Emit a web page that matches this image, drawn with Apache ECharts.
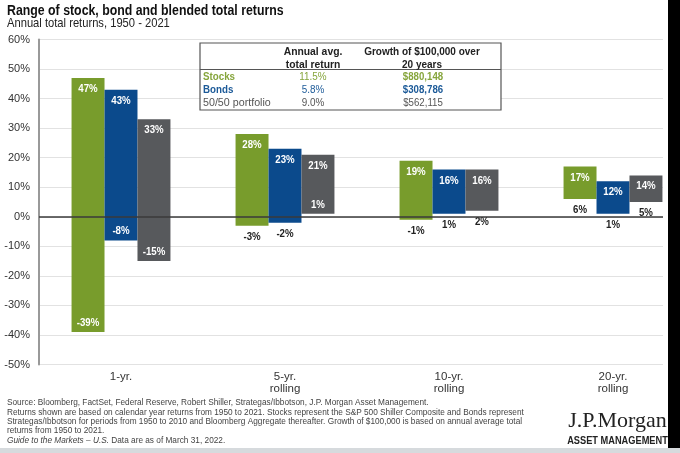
<!DOCTYPE html>
<html>
<head>
<meta charset="utf-8">
<script src="https://cdn.jsdelivr.net/npm/echarts@6/dist/echarts.min.js"></script>
<style>
html,body{margin:0;padding:0;background:#fff;}
#chart{width:680px;height:453px;}
</style>
</head>
<body>
<div id="chart"></div>
<script>
// ---- data ----
var categories = ['1-yr.', '5-yr.\nrolling', '10-yr.\nrolling', '20-yr.\nrolling'];
var stocksMax = [47, 28, 19, 17];
var stocksMin = [-39, -3, -1, 6];
var bondsMax  = [43, 23, 16, 12];
var bondsMin  = [-8, -2, 1, 1];
var blendMax  = [33, 21, 16, 14];
var blendMin  = [-15, 1, 2, 5];
var yMin = -50, yMax = 60, yStep = 10;

var tableRows   = ['Stocks', 'Bonds', '50/50 portfolio'];
var tableAvg    = ['11.5%', '5.8%', '9.0%'];
var tableGrowth = ['$880,148', '$308,786', '$562,115'];
var tableHead1  = 'Annual avg.\ntotal return';
var tableHead2  = 'Growth of $100,000 over\n20 years';

var titleText = 'Range of stock, bond and blended total returns';
var subtitleText = 'Annual total returns, 1950 - 2021';
var footLines = [
  'Source: Bloomberg, FactSet, Federal Reserve, Robert Shiller, Strategas/Ibbotson, J.P. Morgan Asset Management.',
  'Returns shown are based on calendar year returns from 1950 to 2021. Stocks represent the S&P 500 Shiller Composite and Bonds represent',
  'Strategas/Ibbotson for periods from 1950 to 2010 and Bloomberg Aggregate thereafter. Growth of $100,000 is based on annual average total',
  'returns from 1950 to 2021.'
];
var footItalic = 'Guide to the Markets \u2013 U.S.';
var footLast = ' Data are as of March 31, 2022.';

// ---- style ----
var SANS = "'Liberation Sans',Arial,sans-serif";
var GREEN = '#789c2c', BLUE = '#0b4a8c', GRAY = '#57595c';
var rowColors = ['#86a53c', '#1c5a98', '#555555'];

function seriesData(mins, maxs) {
  return categories.map(function (c, i) { return [i, mins[i], maxs[i]]; });
}

function makeRender(slot, color) {
  return function (params, api) {
    var ci = api.value(0), lo = api.value(1), hi = api.value(2);
    var pTop = api.coord([ci, hi]);
    var pBot = api.coord([ci, lo]);
    var band = api.size([1, 0])[0];
    var bw = band * 0.201;
    var cx = pTop[0] + (slot - 1) * bw;
    var x0 = cx - bw / 2;
    var inside = lo <= -5 || (lo >= 0 && hi - lo >= 18);
    var children = [
      {type: 'rect', shape: {x: x0, y: pTop[1], width: bw, height: pBot[1] - pTop[1]},
       style: {fill: color}},
      {type: 'text', x: cx, y: pTop[1] + 11, scaleX: 0.88,
       style: {text: hi + '%', fill: '#ffffff', font: 'bold 11px ' + SANS, align: 'center', verticalAlign: 'middle'}},
      {type: 'text', x: cx, y: inside ? pBot[1] - 9 : pBot[1] + 11, scaleX: 0.88,
       style: {text: lo + '%', fill: inside ? '#ffffff' : '#222222', font: 'bold 11px ' + SANS, align: 'center', verticalAlign: 'middle'}}
    ];
    return {type: 'group', children: children};
  };
}

var chart = echarts.init(document.getElementById('chart'), null, {renderer: 'canvas'});

function txt(x, y, text, font, fill, align, sx, z, extra) {
  var st = {text: text, font: font, fill: fill, align: align || 'left', verticalAlign: 'middle'};
  if (extra) { for (var k in extra) st[k] = extra[k]; }
  return {type: 'text', x: x, y: y, scaleX: sx || 1, z: z || 60, style: st};
}

var graphics = [];
// title
graphics.push(txt(7, 10.5, titleText, 'bold 14.5px ' + SANS, '#111', 'left', 0.85));
graphics.push(txt(7, 23.5, subtitleText, '13px ' + SANS, '#222', 'left', 0.86));
// table
var tX0 = 200, tX1 = 501, tY0 = 43, tY1 = 110;
graphics.push({type: 'rect', shape: {x: tX0, y: tY0, width: tX1 - tX0, height: tY1 - tY0},
  style: {fill: '#fff', stroke: '#555', lineWidth: 1.2}, z: 50});
graphics.push({type: 'line', shape: {x1: tX0, y1: 69.5, x2: tX1, y2: 69.5}, style: {stroke: '#555', lineWidth: 1.2}, z: 51});
graphics.push(txt(313, 58.5, tableHead1, 'bold 11.5px ' + SANS, '#222', 'center', 0.9, 52, {lineHeight: 12.7}));
graphics.push(txt(422, 58.5, tableHead2, 'bold 11.5px ' + SANS, '#222', 'center', 0.87, 52, {lineHeight: 12.7}));
var rowY = [76.5, 90.3, 103];
tableRows.forEach(function (r, i) {
  var w = i < 2 ? 'bold ' : '';
  graphics.push(txt(203, rowY[i], r, w + '11.5px ' + SANS, rowColors[i], 'left', i < 2 ? 0.85 : 0.93, 52));
  graphics.push(txt(313, rowY[i], tableAvg[i], '11.5px ' + SANS, rowColors[i], 'center', 0.86, 52));
  graphics.push(txt(423, rowY[i], tableGrowth[i], (i < 2 ? 'bold ' : '') + '11.5px ' + SANS, rowColors[i], 'center', 0.84, 52));
});
// footer
footLines.forEach(function (t, i) {
  graphics.push(txt(7, 402.7 + i * 9.2, t, '9.5px ' + SANS, '#444', 'left', 0.87));
});
graphics.push({type: 'text', x: 7, y: 402.7 + 4 * 9.2 + 0.6, scaleX: 0.87, z: 60,
  style: {text: '{i|' + footItalic + '}{n|' + footLast + '}', verticalAlign: 'middle',
    rich: {i: {font: 'italic 9.5px ' + SANS, fill: '#444'}, n: {font: '9.5px ' + SANS, fill: '#444'}}}});
// logo
graphics.push(txt(617.5, 421, 'J.P.Morgan', '22px "Liberation Serif",serif', '#222', 'center', 1.0, 95));
graphics.push(txt(617.5, 441, 'ASSET MANAGEMENT', 'bold 10.5px ' + SANS, '#222', 'center', 0.88, 95));
// frame decorations
graphics.push({type: 'rect', shape: {x: 663, y: 0, width: 5, height: 448}, style: {fill: '#fff'}, z: 90});
graphics.push({type: 'rect', shape: {x: 668, y: 0, width: 12, height: 448}, style: {fill: '#000'}, z: 96});
graphics.push({type: 'rect', shape: {x: 0, y: 448, width: 680, height: 5}, style: {fill: '#d6dadd'}, z: 96});

var option = {
  animation: false,
  backgroundColor: '#fff',
  textStyle: {fontFamily: SANS},
  grid: {left: 39, width: 656, top: 39.5, height: 325, containLabel: false, outerBoundsMode: 'none'},
  xAxis: {
    type: 'category', data: categories,
    axisLine: {show: false}, axisTick: {show: false}, splitLine: {show: false},
    axisLabel: {color: '#333', fontSize: 11.5, lineHeight: 12.5, margin: 6, fontFamily: SANS}
  },
  yAxis: {
    type: 'value', min: yMin, max: yMax, interval: yStep,
    axisLine: {show: true, lineStyle: {color: '#999', width: 2}},
    axisTick: {show: false},
    splitLine: {show: true, lineStyle: {color: '#e2e2e2', width: 1}},
    axisLabel: {formatter: '{value}%', color: '#333', fontSize: 11, margin: 9, fontFamily: SANS}
  },
  series: [
    {type: 'custom', name: 'Stocks', renderItem: makeRender(0, GREEN), data: seriesData(stocksMin, stocksMax),
     encode: {x: 0, y: [1, 2]}, z: 3,
     markLine: {silent: true, symbol: 'none', z: 10, label: {show: false},
       lineStyle: {color: '#3a3a3a', width: 1.5, type: 'solid'}, data: [{yAxis: 0}]}},
    {type: 'custom', name: 'Bonds', renderItem: makeRender(1, BLUE), data: seriesData(bondsMin, bondsMax),
     encode: {x: 0, y: [1, 2]}, z: 3},
    {type: 'custom', name: '50/50 portfolio', renderItem: makeRender(2, GRAY), data: seriesData(blendMin, blendMax),
     encode: {x: 0, y: [1, 2]}, z: 3}
  ],
  graphic: graphics
};
chart.setOption(option);
</script>
</body>
</html>
